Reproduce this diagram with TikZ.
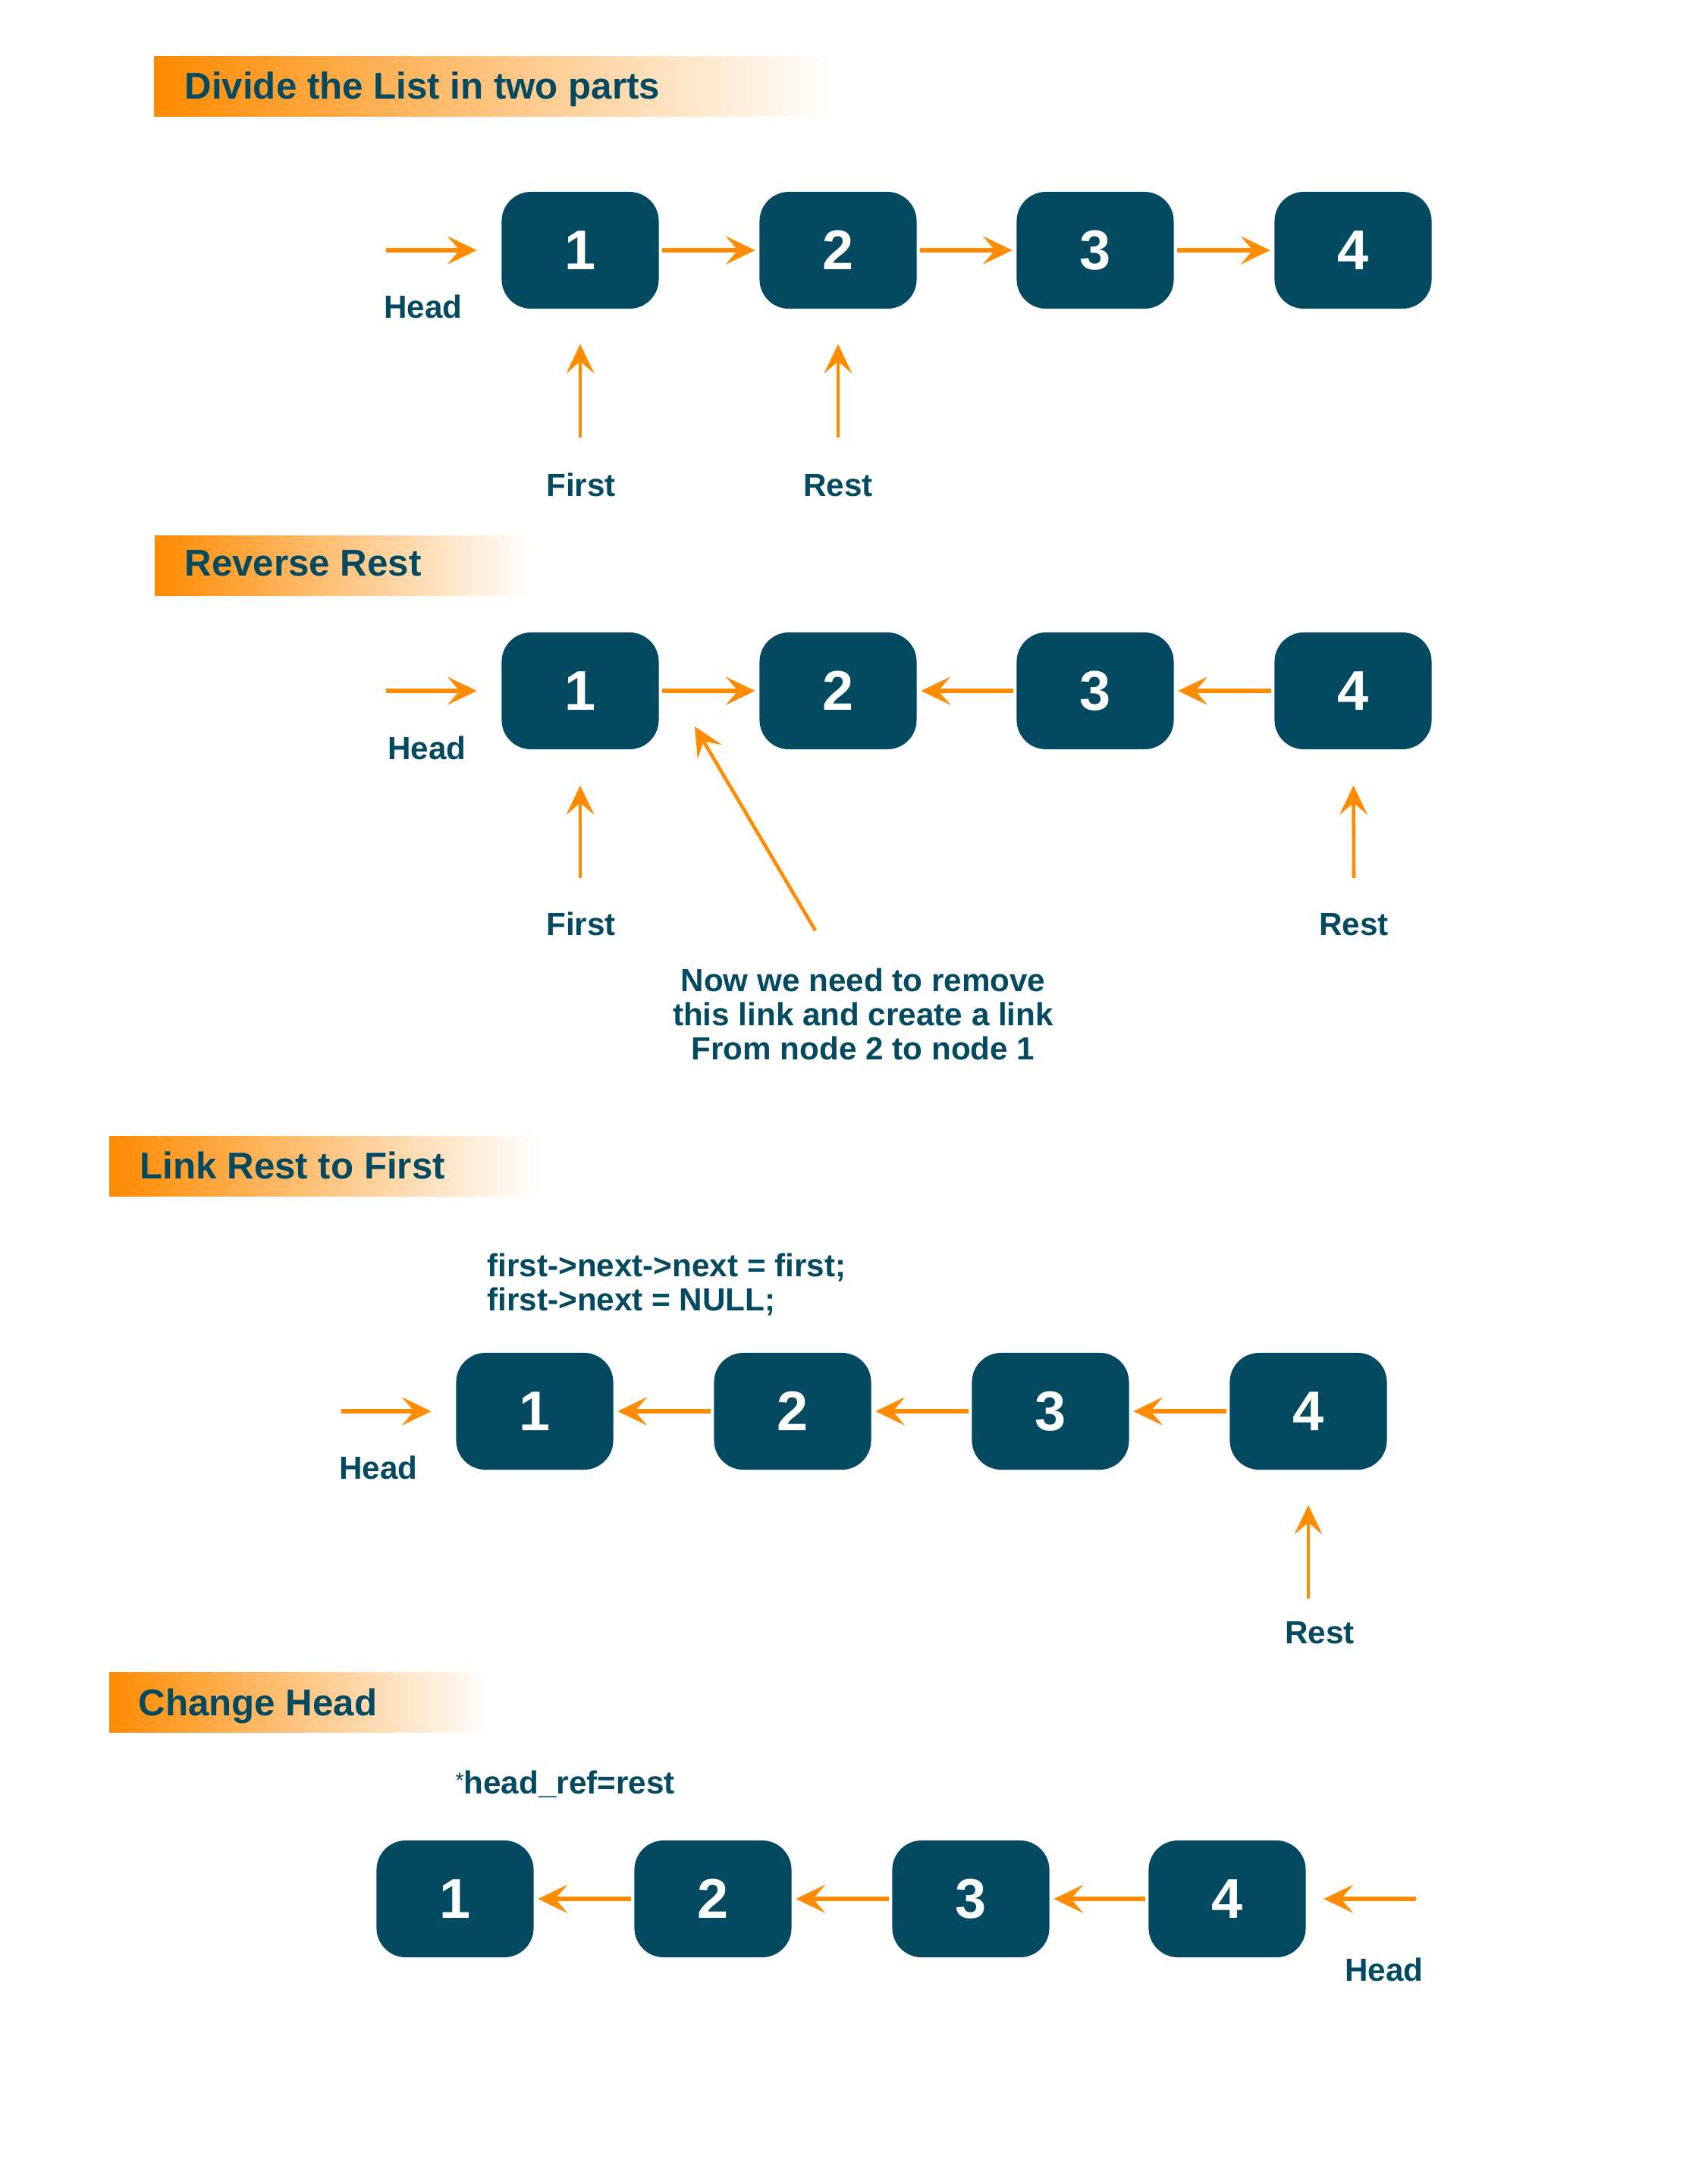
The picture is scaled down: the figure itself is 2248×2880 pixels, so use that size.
\documentclass[tikz,border=0pt]{standalone}
\usepackage{fontspec}
\setmainfont{Liberation Sans}
\usetikzlibrary{arrows.meta,positioning}
\definecolor{nodeteal}{HTML}{034A61}
\definecolor{arroworange}{HTML}{FF8C00}
\definecolor{barorange}{HTML}{FF8A00}
\tikzset{
  listnode/.style={rectangle, rounded corners=11pt, fill=nodeteal, text=white, minimum width=2.07cm, minimum height=1.54cm, inner sep=0pt, font=\fontsize{21}{21}\selectfont\bfseries},
  link/.style={-{Stealth[length=11pt, width=10.5pt, inset=4.5pt]}, line width=1.9pt, arroworange, shorten <=0.04cm, shorten >=0.05cm},
  pointer/.style={-{Stealth[length=11pt, width=10.5pt, inset=4.5pt]}, line width=1.3pt, arroworange},
  lbl/.style={text=nodeteal, font=\fontsize{12}{12.8}\selectfont\bfseries, inner sep=0pt, anchor=base},
  steptitle/.style={text=nodeteal, font=\fontsize{14}{16}\selectfont\bfseries, inner sep=0pt, anchor=base west},
  titlebar/.style={left color=barorange, right color=white, draw=none}
}
\begin{document}
\begin{tikzpicture}[x=0.01cm, y=-0.01cm]
  \useasboundingbox (0,0) rectangle (2248,2880);
  \fill[white] (0,0) rectangle (2248,2880);

  % step 1
  \shade[titlebar] (203,74) rectangle (1099,153);
  \node[steptitle] (title1) at (243,130) {Divide the List in two parts};
  \node[listnode] (a1) at (765,330) {1};
  \node[listnode] (a2) at (1105,330) {2};
  \node[listnode] (a3) at (1444,330) {3};
  \node[listnode] (a4) at (1784,330) {4};
  \draw[link] (a1) -- (a2); \draw[link] (a2) -- (a3); \draw[link] (a3) -- (a4);
  \coordinate (heada) at (505,330);
  \draw[link, shorten >=0.32cm] (heada) -- (a1);
  \node[lbl] (headlbla) at (558,419) {Head};
  \coordinate (firsta) at (765,577);
  \draw[pointer, shorten >=0.46cm] (firsta) -- (a1);
  \node[lbl] (firstlbla) at (766,654) {First};
  \coordinate (resta) at (1105,577);
  \draw[pointer, shorten >=0.46cm] (resta) -- (a2);
  \node[lbl] (restlbla) at (1105,654) {Rest};

  % step 2
  \shade[titlebar] (204,706) rectangle (700,785);
  \node[steptitle] (title2) at (243,759) {Reverse Rest};
  \node[listnode] (b1) at (765,911) {1};
  \node[listnode] (b2) at (1105,911) {2};
  \node[listnode] (b3) at (1444,911) {3};
  \node[listnode] (b4) at (1784,911) {4};
  \draw[link] (b1) -- (b2); \draw[link] (b3) -- (b2); \draw[link] (b4) -- (b3);
  \coordinate (headb) at (505,911);
  \draw[link, shorten >=0.32cm] (headb) -- (b1);
  \node[lbl] (headlblb) at (563,1001) {Head};
  \coordinate (firstb) at (765,1158);
  \draw[pointer, shorten >=0.47cm] (firstb) -- (b1);
  \node[lbl] (firstlblb) at (766,1233) {First};
  \coordinate (restb) at (1785,1158);
  \draw[pointer, shorten >=0.47cm] (restb) -- (b4);
  \node[lbl] (restlblb) at (1785,1233) {Rest};
  \node[lbl, anchor=north, align=center] (note) at (1138,1276) {Now we need to remove\\this link and create a link\\From node 2 to node 1};
  \coordinate (notetail) at (1075,1227);
  \coordinate (notetip) at (916,958);
  \draw[pointer] (notetail) -- (notetip);

  % step 3
  \shade[titlebar] (144,1498) rectangle (710,1577);
  \node[steptitle] (title3) at (184,1554) {Link Rest to First};
  \node[lbl, anchor=north west, align=left] (code3) at (642,1652) {first->next->next = first;\\first->next = NULL;};
  \node[listnode] (c1) at (705,1861) {1};
  \node[listnode] (c2) at (1045,1861) {2};
  \node[listnode] (c3) at (1385,1861) {3};
  \node[listnode] (c4) at (1725,1861) {4};
  \draw[link] (c2) -- (c1); \draw[link] (c3) -- (c2); \draw[link] (c4) -- (c3);
  \coordinate (headc) at (446,1861);
  \draw[link, shorten >=0.32cm] (headc) -- (c1);
  \node[lbl] (headlblc) at (499,1950) {Head};
  \coordinate (restc) at (1725,2108);
  \draw[pointer, shorten >=0.46cm] (restc) -- (c4);
  \node[lbl] (restlblc) at (1740,2167) {Rest};

  % step 4
  \shade[titlebar] (144,2205) rectangle (645,2284);
  \node[steptitle] (title4) at (182,2262) {Change Head};
  \node[lbl, anchor=base west] (code4) at (600,2365) {\raisebox{2pt}{\mdseries\fontsize{8}{8}\selectfont*}head\_ref=rest};
  \node[listnode] (d1) at (600,2504) {1};
  \node[listnode] (d2) at (940,2504) {2};
  \node[listnode] (d3) at (1280,2504) {3};
  \node[listnode] (d4) at (1618,2504) {4};
  \draw[link] (d2) -- (d1); \draw[link] (d3) -- (d2); \draw[link] (d4) -- (d3);
  \coordinate (headd) at (1871,2504);
  \draw[link, shorten >=0.23cm] (headd) -- (d4);
  \node[lbl] (headlbld) at (1825,2612) {Head};
\end{tikzpicture}
\end{document}
